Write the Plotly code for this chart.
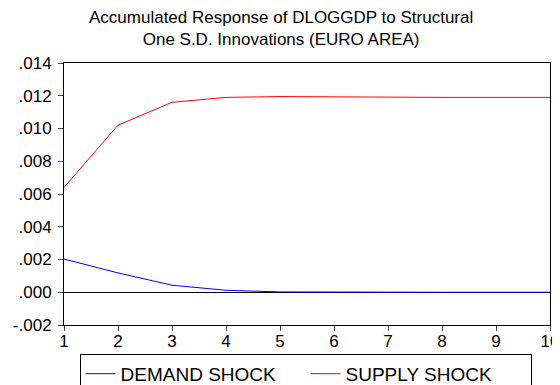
import plotly.graph_objects as go

periods = [1, 2, 3, 4, 5, 6, 7, 8, 9, 10]
demand_shock = [0.00203, 0.00118, 0.00043, 0.00012, 0.00002, 0.0, 0.0, 0.0, 0.0, 0.0]
supply_shock = [0.0064, 0.0102, 0.0116, 0.0119, 0.01195, 0.01192, 0.0119, 0.0119, 0.0119, 0.0119]
ytick_vals = [-0.002, 0.0, 0.002, 0.004, 0.006, 0.008, 0.010, 0.012, 0.014]
ytick_text = ["-.002", ".000", ".002", ".004", ".006", ".008", ".010", ".012", ".014"]
title_lines = ["Accumulated Response of DLOGGDP to Structural", "One S.D. Innovations (EURO AREA)"]

font = "Liberation Sans, Arial, sans-serif"

fig = go.Figure()
fig.add_trace(go.Scatter(x=periods, y=demand_shock, mode="lines", name="DEMAND SHOCK",
                         line=dict(color="#0000ff", width=1)))
fig.add_trace(go.Scatter(x=periods, y=supply_shock, mode="lines", name="SUPPLY SHOCK",
                         line=dict(color="#ff0000", width=1)))

fig.update_layout(
    width=560, height=385,
    margin=dict(l=56, r=18, t=55, b=68, autoexpand=False),
    paper_bgcolor="white", plot_bgcolor="white",
    font=dict(family=font, size=16, color="black"),
    showlegend=True,
    legend=dict(orientation="h", x=0.497, xanchor="center", y=-0.11, yanchor="top",
                bordercolor="black", borderwidth=1, font=dict(size=19),
                itemwidth=30, tracegroupgap=0, entrywidth=180),
    annotations=[
        dict(text="<br>".join(title_lines), x=0.4475, xref="paper", xanchor="center",
             y=1.1317, yref="paper", yanchor="middle", showarrow=False, font=dict(size=17)),
    ],
)
fig.update_xaxes(range=[1, 10], tickvals=periods, ticks="outside", ticklen=5,
                 showline=True, linecolor="black", linewidth=1, mirror=True,
                 showgrid=False, zeroline=False, tickfont=dict(size=17),
                 ticklabelstandoff=-4)
fig.update_yaxes(range=[-0.002, 0.014], tickvals=ytick_vals, ticktext=ytick_text,
                 ticks="outside", ticklen=5, showline=True, linecolor="black", linewidth=1,
                 mirror=True, showgrid=False, zeroline=True, zerolinecolor="black",
                 zerolinewidth=1, tickfont=dict(size=17), ticklabelstandoff=3)

fig.write_html("out.html")
